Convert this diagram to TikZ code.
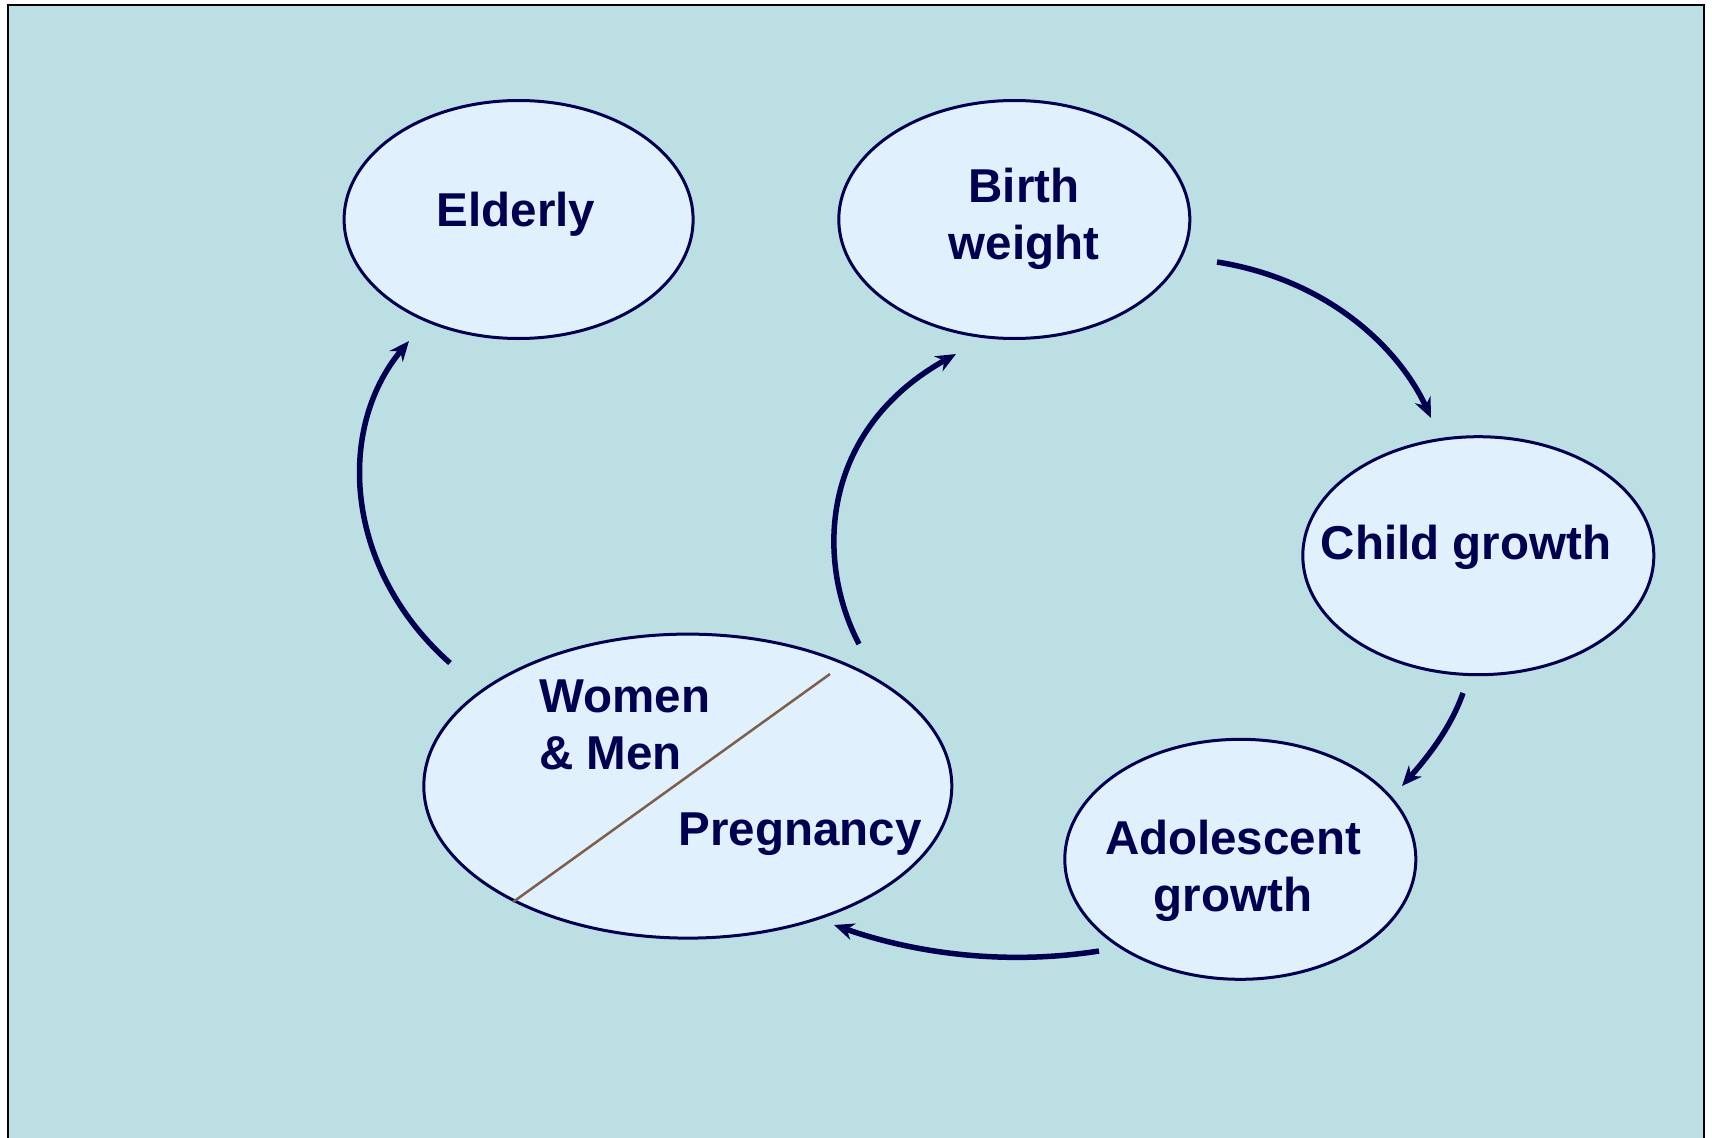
\documentclass[tikz,border=0pt]{standalone}
\usepackage{fontspec}
\setmainfont{Liberation Sans}
\usetikzlibrary{arrows.meta,shapes.geometric}
\definecolor{bgc}{RGB}{187,223,226}
\definecolor{ellfill}{RGB}{224,240,252}
\definecolor{navy}{RGB}{0,0,80}
\definecolor{divline}{RGB}{125,95,78}
\begin{document}
\begin{tikzpicture}[x=1pt,y=-1pt,
  bubble/.style={ellipse,draw=navy,fill=ellfill,line width=3pt,inner sep=0pt},
  lbl/.style={text=navy,font=\fontsize{47.5}{56.5}\selectfont\bfseries,align=center},
  flow/.style={draw=navy,line width=5.5pt,-{Stealth[length=20pt,width=17pt]}}]
\useasboundingbox (0,0) rectangle (1712,1137);
\begin{scope}
\clip (0,0) rectangle (1712,1137);
\draw[fill=bgc,draw=black,line width=2.5pt] (8,5) rectangle (1704,1160);
\end{scope}
\node[bubble,minimum width=349pt,minimum height=238pt] (eld) at (518.6,219.5) {};
\node[bubble,minimum width=351pt,minimum height=238pt] (bw) at (1014.3,219.5) {};
\node[bubble,minimum width=351pt,minimum height=238pt] (cg) at (1478.3,555.7) {};
\node[bubble,minimum width=351pt,minimum height=240pt] (ag) at (1240.3,859.3) {};
\node[bubble,minimum width=528pt,minimum height=304pt] (wm) at (687.8,786.1) {};
\node[lbl] (teld) at (516,214) {Elderly};
\node[lbl] (tbw) at (1024,219) {Birth\\weight};
\node[lbl] (tcg) at (1466,547) {Child growth};
\node[lbl] (tag) at (1233,871) {Adolescent\\growth};
\node[lbl,align=left,anchor=west] (twm) at (536,725) {Women\\\& Men};
\node[lbl] (tpr) at (800,834) {Pregnancy};
\coordinate (d1) at (830,674);
\coordinate (d2) at (513,902);
\draw[divline,line width=2.5pt] (d1) -- (d2);
\coordinate (a1s) at (450,663);
\coordinate (a1e) at (409,341);
\coordinate (a2s) at (859,644);
\coordinate (a2e) at (956,354);
\coordinate (a3s) at (1217,262);
\coordinate (a3e) at (1431,418);
\coordinate (a4s) at (1463,693);
\coordinate (a4e) at (1402,786);
\coordinate (a5s) at (1099,951);
\coordinate (a5e) at (834,925);
\draw[flow] (a1s) .. controls (345,570) and (335,430) .. (a1e);
\draw[flow] (a2s) .. controls (815,560) and (820,430) .. (a2e);
\draw[flow] (a3s) .. controls (1330,280) and (1400,350) .. (a3e);
\draw[flow] (a4s) .. controls (1450,730) and (1425,760) .. (a4e);
\draw[flow] (a5s) .. controls (1010,965) and (920,955) .. (a5e);
\end{tikzpicture}
\end{document}
